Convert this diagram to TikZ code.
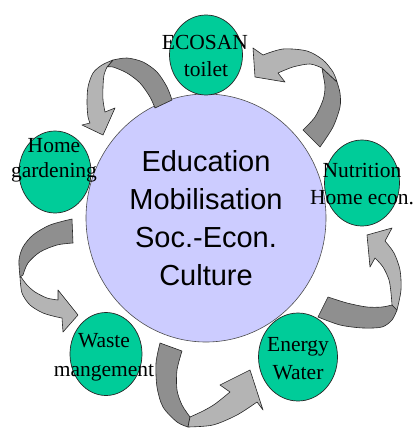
\documentclass[tikz,border=0pt]{standalone}
\usepackage{fontspec}
\setmainfont{Liberation Serif}
\newfontfamily\arialfont{Liberation Sans}
\usetikzlibrary{shapes.geometric}
\definecolor{ardark}{HTML}{8F8F8F}
\definecolor{arlight}{HTML}{B4B4B4}
\definecolor{lav}{HTML}{CCCCFF}
\definecolor{grn}{HTML}{00CC99}
\begin{document}
\begin{tikzpicture}[x=1pt,y=-1pt,
  darkpart/.style={fill=ardark, draw=black!85, line width=0.6pt, line join=round},
  lightpart/.style={fill=arlight, draw=black!85, line width=0.6pt, line join=round},
  hub/.style={ellipse, fill=lav, draw=black!70, line width=0.6pt, minimum width=240pt, minimum height=248pt, inner sep=0pt},
  sat/.style={ellipse, fill=grn, draw=black!85, line width=0.7pt, inner sep=0pt},
  small/.style={anchor=base, inner sep=0pt, font=\fontsize{21.5}{26}\selectfont},
  big/.style={anchor=base, inner sep=0pt, font=\arialfont\fontsize{29}{38}\selectfont}]
\useasboundingbox (0,0) rectangle (416,428);

% hub circle
\node[hub] (hub) at (206,218) {};

% satellites
\node[sat, minimum width=73pt, minimum height=80pt] (eco) at (206,55) {};
\node[sat, minimum width=72pt, minimum height=82pt] (home) at (55,172) {};
\node[sat, minimum width=75pt, minimum height=86pt] (nut) at (362,183) {};
\node[sat, minimum width=72pt, minimum height=83pt] (waste) at (106,354) {};
\node[sat, minimum width=79pt, minimum height=88pt] (energy) at (298,357) {};

% arrow 1: nutrition -> ecosan
\filldraw[darkpart] (303,130) -- plot[smooth] coordinates {(320,147) (333,127) (340,107) (340,93) (337,82)} -- plot[smooth] coordinates {(322,68) (323,74) (325,87) (323,100) (315,117) (303,130)} -- cycle;
\filldraw[lightpart] (337,82) -- (322,68) -- plot[smooth] coordinates {(322,68) (310,64) (293,67) (278,73)} -- (285,82) -- (255,77) -- (253,48) -- plot[smooth] coordinates {(263,55) (283,49) (307,51) (323,60) (333,72) (337,82)} -- cycle;

% arrow 2: ecosan -> home gardening
\filldraw[darkpart] (155,108) -- plot[smooth] coordinates {(172,100) (167,87) (157,72) (143,62) (127,58) (113,60)} -- plot[smooth] coordinates {(107,67) (113,67) (127,73) (140,83) (150,97) (155,108)} -- cycle;
\filldraw[lightpart] (107,67) -- plot[smooth] coordinates {(113,60) (102,65) (93,73) (88,87) (87,103) (88,117) (90,123)} -- (82,125) -- (103,135) -- (115,108) -- plot[smooth] coordinates {(105,112) (103,100) (103,87) (104,75) (107,67)} -- cycle;

% arrow 3: home gardening -> waste
\filldraw[darkpart] (73,243) -- plot[smooth] coordinates {(72,219) (50,225) (33,235) (23,247) (19,260) (20,277)} -- plot[smooth] coordinates {(23,275) (28,263) (40,252) (57,245) (73,243)} -- cycle;
\filldraw[lightpart] (20,277) -- plot[smooth] coordinates {(20,277) (22,293) (30,305) (43,313) (57,317) (62,318)} -- (63,332) -- (78,315) -- (58,290) -- plot[smooth] coordinates {(58,300) (47,298) (35,292) (27,285) (21,277)} -- cycle;

% arrow 4: waste -> energy
\filldraw[darkpart] (182,351) -- plot[smooth] coordinates {(160,343) (156,363) (157,387) (163,407) (177,422) (188,427)} -- plot[smooth] coordinates {(190,417) (182,405) (177,390) (177,370) (182,351)} -- cycle;
\filldraw[lightpart] (190,417) -- plot[smooth] coordinates {(188,427) (213,425) (237,415) (257,402)} -- (263,410) -- (250,370) -- (220,385) -- plot[smooth] coordinates {(230,392) (215,404) (203,411) (190,417)} -- cycle;

% arrow 5: energy -> nutrition
\filldraw[darkpart] (318,317) -- plot[smooth] coordinates {(328,297) (347,303) (367,307) (382,307) (392,305)} -- plot[smooth] coordinates {(397,310) (392,320) (382,327) (363,328) (340,325) (318,317)} -- cycle;
\filldraw[lightpart] (392,305) -- plot[smooth] coordinates {(397,310) (401,290) (400,270) (394,253) (385,241)} -- (392,228) -- (367,235) -- (370,267) -- plot[smooth] coordinates {(375,258) (383,267) (389,280) (391,293) (392,305)} -- cycle;

% texts
\node[big] (c1) at (206,171) {Education};
\node[big] (c2) at (206,209) {Mobilisation};
\node[big] (c3) at (206,247) {Soc.-Econ.};
\node[big] (c4) at (206,285) {Culture};

\node[small] (e1) at (205,50) {ECOSAN};
\node[small] (e2) at (206,77) {toilet};
\node[small] (h1) at (54,152) {Home};
\node[small] (h2) at (54,177) {gardening};
\node[small] (n1) at (362,177) {Nutrition};
\node[small] (n2) at (362,204) {Home econ.};
\node[small] (w1) at (104,347) {Waste};
\node[small] (w2) at (104,376) {mangement};
\node[small] (g1) at (298,351) {Energy};
\node[small] (g2) at (298,379) {Water};
\end{tikzpicture}
\end{document}
